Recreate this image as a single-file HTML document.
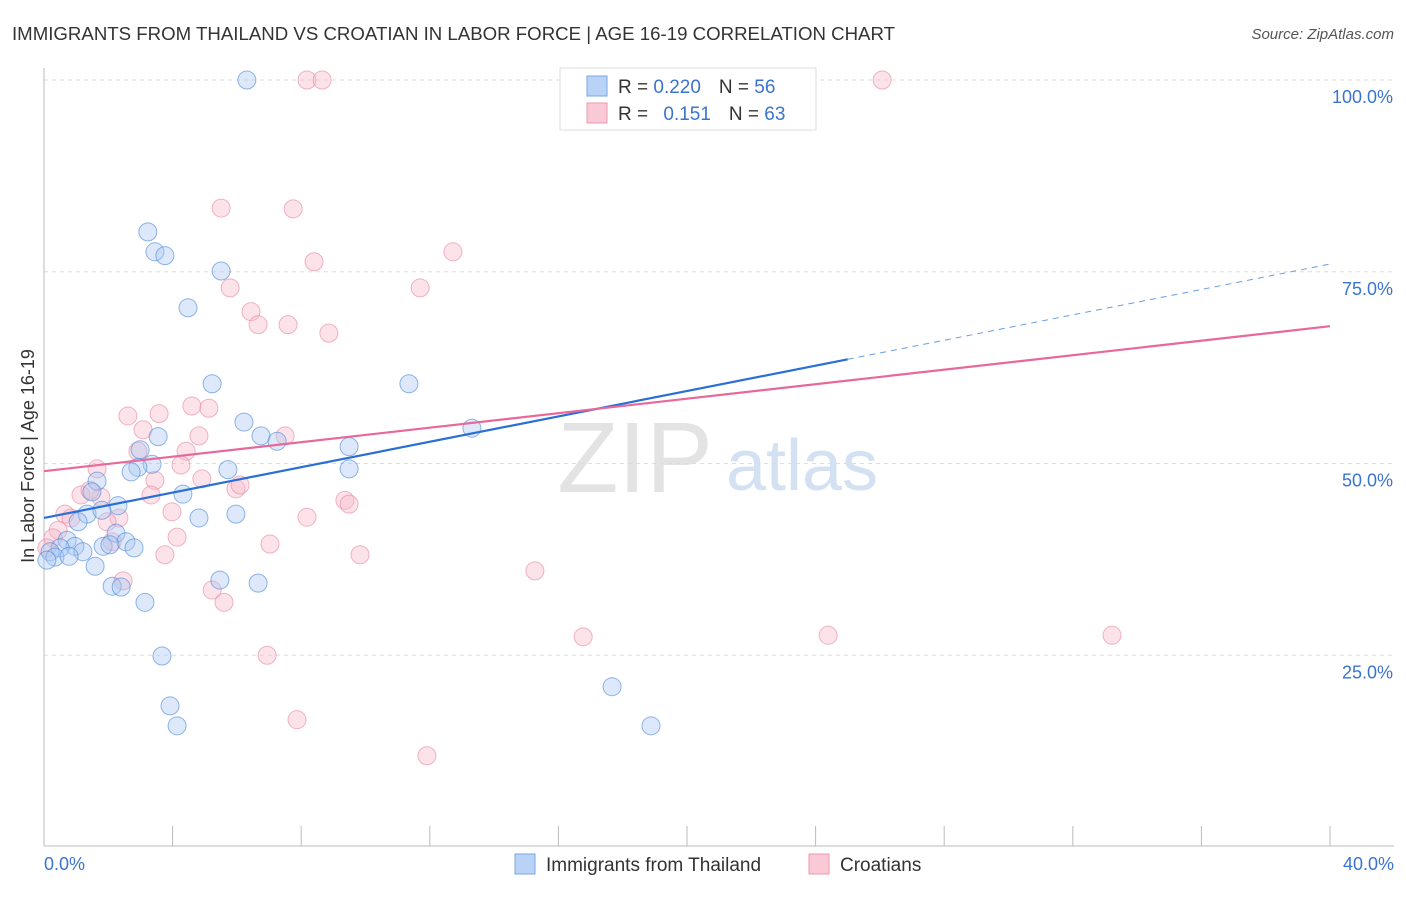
<!DOCTYPE html>
<html><head><meta charset="utf-8">
<style>
body{margin:0;background:#fff;font-family:"Liberation Sans",sans-serif;}
svg text{font-family:"Liberation Sans",sans-serif;}
</style></head>
<body>
<svg id="chart" width="1406" height="892">
<text x="12" y="40" font-size="18" fill="#333" textLength="883" lengthAdjust="spacingAndGlyphs">IMMIGRANTS FROM THAILAND VS CROATIAN IN LABOR FORCE | AGE 16-19 CORRELATION CHART</text>
<text x="1394" y="39" font-size="15" fill="#555" text-anchor="end" font-style="italic">Source: ZipAtlas.com</text>
<text x="635" y="492" font-size="100" fill="#e3e3e3" font-family="Liberation Serif" text-anchor="middle">ZIP</text>
<text x="802" y="490" font-size="72" fill="#d3e1f3" text-anchor="middle">atlas</text>
<g id="grid"></g>
<g id="axes"></g>
<g id="marks"></g>
<text transform="translate(34,456) rotate(-90)" font-size="18" fill="#333" text-anchor="middle">In Labor Force | Age 16-19</text>
<g>
<rect x="560" y="68" width="256" height="62" fill="#fff" stroke="#ddd"/>
<rect x="587" y="76" width="20" height="20" fill="#b8d3f5" stroke="#7aa7e0"/>
<rect x="587" y="103" width="20" height="20" fill="#f9c9d6" stroke="#ec9ab2"/>
<text x="618" y="93" font-size="19" fill="#333">R = <tspan fill="#3a74d0">0.220</tspan><tspan dx="18">N = </tspan><tspan fill="#3a74d0">56</tspan></text>
<text x="618" y="120" font-size="19" fill="#333">R = <tspan dx="10" fill="#3a74d0">0.151</tspan><tspan dx="18">N = </tspan><tspan fill="#3a74d0">63</tspan></text>
</g>
<g>
<rect x="515" y="854" width="20" height="20" fill="#b8d3f5" stroke="#7aa7e0"/>
<text x="546" y="871" font-size="19" fill="#333">Immigrants from Thailand</text>
<rect x="809" y="854" width="20" height="20" fill="#f9c9d6" stroke="#ec9ab2"/>
<text x="840" y="871" font-size="19" fill="#333">Croatians</text>
</g>
</svg>
<script>
const yTicks=[25,50,75,100];
const yTickLabels=["25.0%","50.0%","75.0%","100.0%"];
const xTicks=[0,4,8,12,16,20,24,28,32,36,40];
const xEndLabels=["0.0%","40.0%"];
const blueX=[6.31,22.27,3.23,3.45,3.76,5.51,4.48,5.23,11.35,6.22,6.75,3.55,7.25,9.49,13.31,2.99,3.36,2.92,2.71,5.72,9.49,1.65,4.32,1.49,2.30,1.34,1.80,4.82,5.97,1.06,2.24,0.72,0.96,1.84,2.55,2.80,2.05,1.21,0.50,0.19,0.34,0.78,0.09,1.59,2.12,2.40,5.47,6.66,3.14,3.67,17.67,3.92,4.14,18.88];
const blueY=[100,100,80.2,77.6,77.1,75.1,70.3,60.4,60.4,55.4,53.6,53.5,52.9,52.2,54.6,51.8,49.9,49.5,48.9,49.2,49.3,47.7,46.0,46.3,44.5,43.4,43.9,42.9,43.4,42.4,40.9,40.0,39.2,39.2,39.8,39.0,39.4,38.5,39.0,38.5,37.8,37.9,37.4,36.6,34.0,33.9,34.8,34.4,31.9,24.9,20.9,18.4,15.8,15.8];
const pinkX=[8.18,8.65,26.07,5.51,7.75,12.72,8.40,5.79,11.70,6.44,6.66,7.59,8.86,2.61,3.58,4.60,5.13,3.08,4.82,7.50,2.92,4.42,4.26,1.65,3.45,4.91,5.97,6.10,3.33,1.15,1.77,1.43,9.36,9.49,0.65,0.84,2.33,1.96,8.18,3.98,4.14,3.76,7.03,9.83,2.12,0.44,0.28,0.09,2.46,5.23,5.60,15.27,16.77,24.39,33.22,6.94,7.87,11.91];
const pinkY=[100,100,100,83.3,83.2,77.6,76.3,72.9,72.9,69.8,68.1,68.1,67.0,56.2,56.5,57.5,57.2,54.4,53.6,53.6,51.6,51.6,49.8,49.3,47.8,48.0,46.7,47.2,45.9,45.9,45.6,46.5,45.2,44.7,43.4,42.9,42.9,42.4,43.0,43.7,40.4,38.1,39.5,38.1,39.8,41.3,40.3,39.0,34.7,33.5,31.9,36.0,27.4,27.6,27.6,25.0,16.6,11.9];
const blueTrend=[42.9,76.0];
const blueSolidEnd=25.0;
const pinkTrend=[49.0,67.9];

const NS="http://www.w3.org/2000/svg";
const xS=v=>44+v/40*1286;
const yS=v=>847-v*7.67;
function mk(tag,attrs,parent){const e=document.createElementNS(NS,tag);for(const k in attrs)e.setAttribute(k,attrs[k]);parent.appendChild(e);return e;}
const grid=document.getElementById('grid'),axes=document.getElementById('axes'),marks=document.getElementById('marks');
yTicks.forEach((t,i)=>{
  const l=mk('line',{x1:44,x2:1394,y1:yS(t),y2:yS(t),stroke:'#ddd','stroke-dasharray':'4,4'},grid);
  
  
  const tx=mk('text',{x:1393,y:yS(t)+23,'font-size':18,fill:'#3a74d0','text-anchor':'end'},axes);
  tx.textContent=yTickLabels[i];
  
  
});
const ax=mk('line',{x1:44,x2:44,y1:68,y2:846,stroke:'#bbb'},axes);


const bx=mk('line',{x1:44,x2:1394,y1:846,y2:846,stroke:'#bbb'},axes);


xTicks.forEach(t=>{
  const l=mk('line',{x1:xS(t),x2:xS(t),y1:826,y2:846,stroke:'#bbb'},axes);
  
  
});
[[0,'start'],[40,'end']].forEach((p,i)=>{
  const tx=mk('text',{x:i?1394:44,y:870,'font-size':18,fill:'#3a74d0','text-anchor':p[1]},axes);
  tx.textContent=xEndLabels[i];
  
  
});
function dots(xs,ys,fill,stroke,name){
  xs.forEach((x,i)=>{
    const c=mk('circle',{cx:xS(x),cy:yS(ys[i]),r:9,fill:fill,'fill-opacity':0.4,stroke:stroke,'stroke-opacity':0.6,'stroke-width':1},marks);
    
    
  });
}
dots(pinkX,pinkY,'#f7b8ca','#e8859f','croatian-point');
dots(blueX,blueY,'#a9c9f2','#4a86d8','thailand-point');
const bAt=x=>blueTrend[0]+(blueTrend[1]-blueTrend[0])*x/40;
const bl=mk('line',{x1:xS(0),y1:yS(blueTrend[0]),x2:xS(blueSolidEnd),y2:yS(bAt(blueSolidEnd)),stroke:'#2a6fd6','stroke-width':2.2},marks);


const bd=mk('line',{x1:xS(blueSolidEnd),y1:yS(bAt(blueSolidEnd)),x2:xS(40),y2:yS(blueTrend[1]),stroke:'#6b9de0','stroke-width':1,'stroke-dasharray':'6,5'},marks);


const pl=mk('line',{x1:xS(0),y1:yS(pinkTrend[0]),x2:xS(40),y2:yS(pinkTrend[1]),stroke:'#e8689a','stroke-width':2.2},marks);


</script>
</body></html>
